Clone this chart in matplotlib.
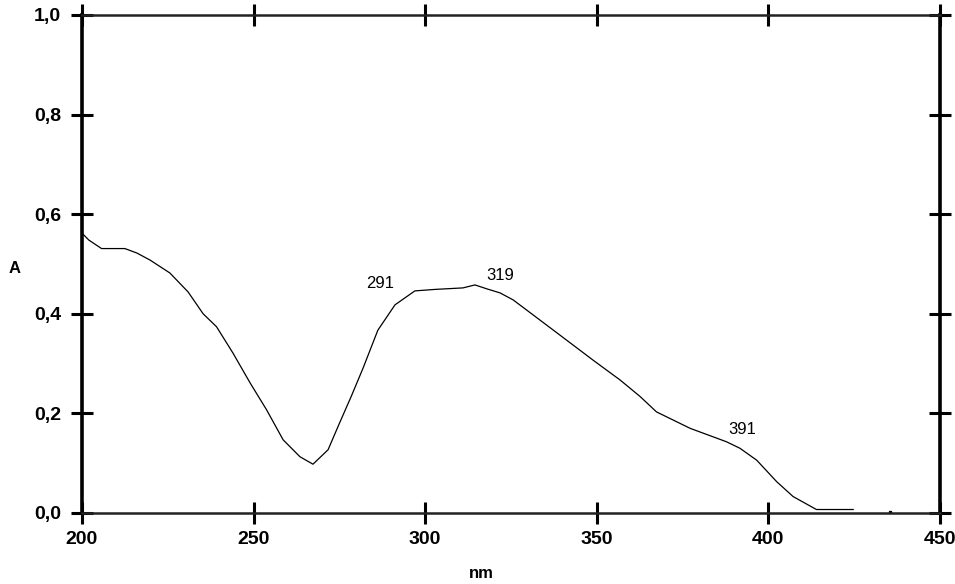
import numpy as np
import matplotlib.pyplot as plt

# absorption spectrum
wavelength = [200, 202, 205.7, 212.5, 216, 219.8, 225.6, 230.9, 235.3, 239.2, 244, 249,
              253.8, 258.6, 263.5, 267.3, 271.7, 275, 278.5, 281.9, 286.2, 291.2, 297,
              302.9, 311, 314.5, 318, 321.8, 325.6, 331.4, 339.3, 348.9, 356.8, 362.6,
              367.4, 377.2, 387.8, 391.7, 396.6, 402.4, 407.2, 414, 424.7, 425.5, 427,
              435.0, 435.6]
absorbance = [0.562, 0.548, 0.531, 0.531, 0.522, 0.508, 0.482, 0.444, 0.400, 0.374, 0.321, 0.261,
              0.207, 0.147, 0.113, 0.098, 0.127, 0.180, 0.235, 0.291, 0.367, 0.418, 0.446,
              0.449, 0.452, 0.458, 0.450, 0.442, 0.428, 0.398, 0.357, 0.307, 0.267, 0.234,
              0.203, 0.170, 0.143, 0.130, 0.106, 0.063, 0.033, 0.007, 0.007, np.nan, 0.003,
              np.nan, 0.003]

peak_labels = ["291", "319", "391"]
peak_x = [286.8, 321.8, 392.3]
peak_y = [0.46, 0.476, 0.167]

x_ticks = [200, 250, 300, 350, 400, 450]
y_ticks = [0.0, 0.2, 0.4, 0.6, 0.8, 1.0]
y_tick_labels = ["0,0", "0,2", "0,4", "0,6", "0,8", "1,0"]

plt.rcParams['font.family'] = ['Liberation Sans', 'DejaVu Sans']

fig = plt.figure(figsize=(9.55, 5.84), dpi=100)
ax = fig.add_axes([82 / 955, 71 / 584, 858 / 955, 498 / 584])

ax.plot(wavelength, absorbance, color="black", linewidth=0.9)
# small isolated dot near 435 nm
ax.plot([435.4], [0.003], marker="s", markersize=1.5, color="black")

for lbl, px, py in zip(peak_labels, peak_x, peak_y):
    ax.text(px, py, lbl, ha="center", va="center", fontsize=12, color="black")

ax.set_xlim(200, 450)
ax.set_ylim(0, 1.0)
ax.set_xticks(x_ticks)
ax.set_xticklabels([str(v) for v in x_ticks])
ax.set_yticks(y_ticks)
ax.set_yticklabels(y_tick_labels)

ax.tick_params(axis="both", direction="inout", length=16, width=2.2,
               top=True, right=True, labelsize=14)
ax.tick_params(axis="x", pad=5)
ax.tick_params(axis="y", pad=7)
for lab in ax.get_xticklabels() + ax.get_yticklabels():
    lab.set_fontweight("bold")

for side in ["left", "right"]:
    ax.spines[side].set_linewidth(2.6)
for side in ["top", "bottom"]:
    ax.spines[side].set_linewidth(1.8)
    ax.spines[side].set_color("#222222")

ax.set_xlabel("nm", fontsize=12, fontweight="bold", va="center")
ax.xaxis.set_label_coords(0.465, -0.122)
ax.set_ylabel("A", fontsize=12, fontweight="bold", rotation=0, va="center", ha="center")
ax.yaxis.set_label_coords(-0.078, 0.49)

plt.savefig("out.png", dpi=100)
